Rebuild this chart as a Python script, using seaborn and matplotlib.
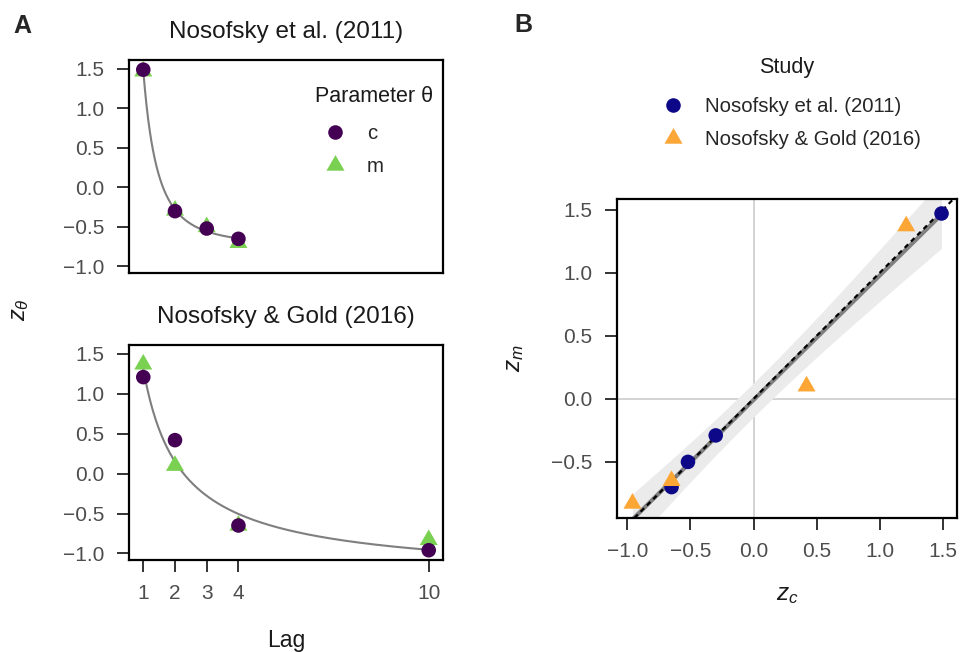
import numpy as np
import pandas as pd
import matplotlib
matplotlib.use("Agg")
import matplotlib.pyplot as plt
import seaborn as sns

sns.set_style("white")
plt.rcParams['font.family'] = ['Liberation Sans', 'DejaVu Sans']
plt.rcParams['mathtext.fontset'] = 'custom'
plt.rcParams['mathtext.it'] = 'Liberation Sans:italic'
plt.rcParams['mathtext.rm'] = 'Liberation Sans'

# ---------------- data ----------------
studies = ["Nosofsky et al. (2011)", "Nosofsky & Gold (2016)"]
lags_2011 = [1, 2, 3, 4]
c_2011 = [1.49, -0.30, -0.52, -0.65]
m_2011 = [1.47, -0.29, -0.50, -0.70]
lags_2016 = [1, 2, 4, 10]
c_2016 = [1.21, 0.42, -0.65, -0.96]
m_2016 = [1.37, 0.10, -0.65, -0.83]
x_ticks_lag = [1, 2, 3, 4, 10]

col_c, col_m = "#440154", "#7AD151"
col_s1, col_s2 = "#0D0887", "#FCA636"
tick_col = "#4D4D4D"
FS_TICK = 15
FS_TITLE = 17.5
FS_LEG = 14.7
FS_LEGT = 15.5

# triangle centred on its centroid (like R's pch 17)
TRI = [(0.0, 1.0), (-0.866, -0.5), (0.866, -0.5)]

rows = []
for s, lags, cs, ms in [(studies[0], lags_2011, c_2011, m_2011),
                        (studies[1], lags_2016, c_2016, m_2016)]:
    for l, v in zip(lags, ms):
        rows.append(dict(study=s, lag=l, param="m", z=v))
    for l, v in zip(lags, cs):
        rows.append(dict(study=s, lag=l, param="c", z=v))
df = pd.DataFrame(rows)

fig = plt.figure(figsize=(9.6, 6.52), dpi=100)
W, H = 960, 652
def box(l, t, r, b):
    return [l / W, 1 - b / H, (r - l) / W, (b - t) / H]

axA1 = fig.add_axes(box(129, 60, 443, 273))
axA2 = fig.add_axes(box(129, 345, 443, 560))
axB = fig.add_axes(box(617, 199, 957, 518))

def style_axes(ax):
    for sp in ax.spines.values():
        sp.set_visible(True)
        sp.set_color("black")
        sp.set_linewidth(1.6)
    ax.tick_params(axis="both", which="both", direction="out", length=8.5,
                   width=1.4, color="#333333", labelcolor=tick_col,
                   labelsize=FS_TICK, pad=9, left=True, bottom=True)
    ax.grid(False)

def lim(vals, frac=0.05):
    lo, hi = min(vals), max(vals)
    d = (hi - lo) * frac
    return lo - d, hi + d

yl = lim(df["z"].tolist())
xl = lim(x_ticks_lag)

def power_fit(x, y):
    x = np.asarray(x, float); y = np.asarray(y, float)
    best = None
    for k in np.linspace(0.1, 6, 600):
        X = np.column_stack([np.ones_like(x), x ** (-k)])
        coef, *_ = np.linalg.lstsq(X, y, rcond=None)
        sse = np.sum((X @ coef - y) ** 2)
        if best is None or sse < best[0]:
            best = (sse, coef, k)
    return best[1], best[2]

def restyle_legend(ax, left_px, top_px):
    old = ax.get_legend()
    handles = list(old.legend_handles)
    labels = [t.get_text() for t in old.texts]
    old.remove()
    return ax.legend(handles, labels, loc="upper left",
                     bbox_to_anchor=(left_px / W, 1 - top_px / H),
                     bbox_transform=fig.transFigure, frameon=False,
                     fontsize=FS_LEG, borderpad=0, borderaxespad=0,
                     handletextpad=0.57, labelspacing=0.66)

for ax, s in [(axA1, studies[0]), (axA2, studies[1])]:
    sub = df[df.study == s]
    coef, k = power_fit(sub.lag, sub.z)
    xs = np.linspace(sub.lag.min(), sub.lag.max(), 300)
    ax.plot(xs, coef[0] + coef[1] * xs ** (-k), color="#7F7F7F", lw=1.5, zorder=1)
    sns.scatterplot(data=sub, x="lag", y="z", hue="param", style="param", size="param",
                    hue_order=["c", "m"], style_order=["c", "m"], size_order=["c", "m"],
                    palette={"c": col_c, "m": col_m},
                    markers={"c": "o", "m": TRI}, sizes={"c": 110, "m": 225},
                    linewidth=0, ax=ax, zorder=3, legend=(ax is axA1))
    style_axes(ax)
    ax.set_xlim(xl)
    ax.set_ylim(yl)
    ax.set_yticks([-1.0, -0.5, 0.0, 0.5, 1.0, 1.5])
    ax.set_yticklabels(["\u22121.0", "\u22120.5", "0.0", "0.5", "1.0", "1.5"])
    ax.set_xlabel("")
    ax.set_ylabel("")
    ax.set_title(s, fontsize=FS_TITLE, color="#1A1A1A", pad=16)

axA1.set_xticks([])
axA2.set_xticks(x_ticks_lag)
axA2.set_xticklabels([str(v) for v in x_ticks_lag])
axA2.tick_params(axis="x", pad=9)

restyle_legend(axA1, 314.6, 124.4)
fig.text(315 / W, 1 - 97 / H, "Parameter \u03b8", ha="left", va="center",
         fontsize=FS_LEGT, color="#1A1A1A")

fig.text(286 / W, 1 - 640 / H, "Lag", ha="center", va="center", fontsize=16.5, color="#1A1A1A")
fig.text(20 / W, 1 - 310 / H, r"$z_\theta$", ha="center", va="center",
         rotation=90, fontsize=17, color="#1A1A1A")

# ---------------- panel B ----------------
cdf = pd.DataFrame({
    "study": [studies[0]] * 4 + [studies[1]] * 4,
    "zc": c_2011 + c_2016,
    "zm": m_2011 + m_2016,
})
axB.axhline(0, color="#CCCCCC", lw=1.2, zorder=0)
axB.axvline(0, color="#CCCCCC", lw=1.2, zorder=0)

x = cdf.zc.values; y = cdf.zm.values
n = len(x)
b1, b0 = np.polyfit(x, y, 1)
resid = y - (b0 + b1 * x)
s_err = np.sqrt(np.sum(resid ** 2) / (n - 2))
t = 2.447  # t(0.975, 6)
xs = np.linspace(x.min(), x.max(), 200)
se = s_err * np.sqrt(1 / n + (xs - x.mean()) ** 2 / np.sum((x - x.mean()) ** 2))
yfit = b0 + b1 * xs
axB.fill_between(xs, yfit - t * se, yfit + t * se, color="#EBEBEB", lw=0, zorder=1)
axB.plot(xs, yfit, color="#808080", lw=3, zorder=2)
axB.axline((0, 0), slope=1, color="black", lw=1.6, ls=(0, (2.2, 1.8)), zorder=2.5)

sns.scatterplot(data=cdf, x="zc", y="zm", hue="study", style="study", size="study",
                hue_order=studies, style_order=studies, size_order=studies,
                palette={studies[0]: col_s1, studies[1]: col_s2},
                markers={studies[0]: "o", studies[1]: TRI},
                sizes={studies[0]: 110, studies[1]: 225}, linewidth=0,
                ax=axB, zorder=3)
style_axes(axB)
axB.set_xlim(lim(x.tolist()))
axB.set_ylim(lim(y.tolist()))
axB.set_xticks([-1.0, -0.5, 0.0, 0.5, 1.0, 1.5])
axB.set_xticklabels(["\u22121.0", "\u22120.5", "0.0", "0.5", "1.0", "1.5"])
axB.set_yticks([-0.5, 0.0, 0.5, 1.0, 1.5])
axB.set_yticklabels(["\u22120.5", "0.0", "0.5", "1.0", "1.5"])
axB.set_xlabel(r"$z_c$", fontsize=17.5, labelpad=16, color="#1A1A1A")
axB.set_ylabel(r"$z_m$", fontsize=17.5, labelpad=18, color="#1A1A1A")

restyle_legend(axB, 652.6, 97.4)
fig.text(787 / W, 1 - 68 / H, "Study", ha="center", va="center",
         fontsize=FS_LEGT, color="#1A1A1A")

fig.text(22 / W, 1 - 26 / H, "A", fontsize=18, fontweight="bold", ha="center", va="center")
fig.text(523 / W, 1 - 25 / H, "B", fontsize=18, fontweight="bold", ha="center", va="center")

fig.savefig("out.png", dpi=100)
